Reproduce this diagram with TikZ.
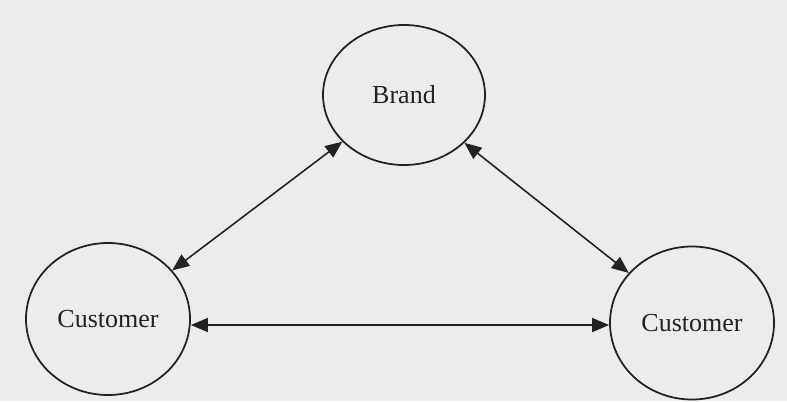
\documentclass[tikz,border=0pt]{standalone}
\usepackage{fontspec}
\setmainfont{Liberation Serif}
\usepackage{tikz}
\usetikzlibrary{shapes.geometric, arrows.meta, positioning}
\definecolor{paper}{RGB}{236, 236, 236}
\definecolor{ink}{RGB}{34, 34, 34}

\begin{document}
\begin{tikzpicture}[
    actor/.style={ellipse, draw=ink, line width=1pt, inner sep=0pt, text=ink, font=\fontsize{14.8}{17}\selectfont},
    link/.style={draw=ink, line width=0.9pt, {Triangle[length=0.34cm, width=0.28cm]}-{Triangle[length=0.34cm, width=0.28cm]}}
]

% page
\fill[paper] (0,0) rectangle (15.74,8.02);
\useasboundingbox (0,0) rectangle (15.74,8.02);

% Brand and its two customers
\node[actor, minimum width=3.24cm, minimum height=2.8cm] (brand) at (8.08,6.12) {\raisebox{-0.06cm}{Brand}};
\node[actor, minimum width=3.28cm, minimum height=3.04cm] (custL) at (2.16,1.64) {Customer};
\node[actor, minimum width=3.28cm, minimum height=3.06cm] (custR) at (13.84,1.56) {Customer};

% Two-way relations
\draw[link] (custL) -- (brand);
\draw[link] (brand) -- (custR);
\draw[link] (custL.east |- 0,1.52) -- (custR.west |- 0,1.52);

\end{tikzpicture}
\end{document}
